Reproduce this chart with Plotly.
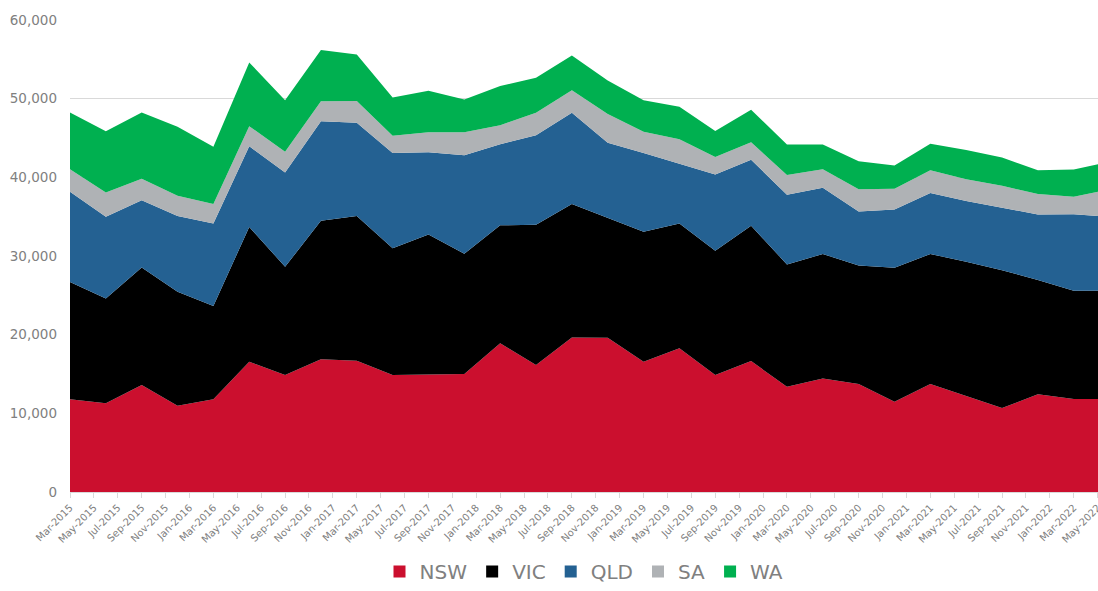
import plotly.graph_objects as go
import pandas as pd

# Quarterly observation dates (last one lies just beyond the visible axis end)
quarters = ["Mar-2015", "Jun-2015", "Sep-2015", "Dec-2015",
            "Mar-2016", "Jun-2016", "Sep-2016", "Dec-2016",
            "Mar-2017", "Jun-2017", "Sep-2017", "Dec-2017",
            "Mar-2018", "Jun-2018", "Sep-2018", "Dec-2018",
            "Mar-2019", "Jun-2019", "Sep-2019", "Dec-2019",
            "Mar-2020", "Jun-2020", "Sep-2020", "Dec-2020",
            "Mar-2021", "Jun-2021", "Sep-2021", "Dec-2021",
            "Mar-2022", "Jun-2022"]

nsw = [11780, 11270, 13600, 10970, 11780, 16560, 14870, 16860, 16700, 14870,
       14950, 15000, 18900, 16140, 19650, 19600, 16560, 18260, 14870, 16640,
       13380, 14440, 13720, 11470, 13720, 12240, 10670, 12410, 11820, 11820]
vic = [14920, 13330, 14950, 14480, 11850, 17140, 13760, 17610, 18400, 16130,
       17790, 15300, 15000, 17830, 16950, 15200, 16520, 15880, 15790, 17200,
       15550, 15800, 15080, 17030, 16520, 17030, 17530, 14530, 13760, 13760]
qld = [11460, 10380, 8550, 9650, 10510, 10260, 11970, 12670, 11830, 12100,
       10460, 12500, 10300, 11390, 11600, 9600, 10020, 7620, 9700, 8390,
       8870, 8430, 6860, 7420, 7760, 7730, 7970, 8340, 9740, 9370]
sa = [2880, 3100, 2720, 2550, 2460, 2540, 2640, 2540, 2770, 2200,
      2540, 2940, 2430, 2840, 2880, 3650, 2700, 3090, 2240, 2240,
      2500, 2370, 2840, 2620, 2900, 2770, 2750, 2590, 2210, 3530]
wa = [7210, 7790, 8430, 8770, 7280, 8100, 6560, 6520, 5900, 4850,
      5260, 4160, 4970, 4450, 4420, 4250, 4000, 4110, 3300, 4130,
      3870, 3130, 3560, 2960, 3360, 3690, 3610, 3030, 3470, 3480]

tick_labels = ["Mar-2015", "May-2015", "Jul-2015", "Sep-2015", "Nov-2015",
               "Jan-2016", "Mar-2016", "May-2016", "Jul-2016", "Sep-2016", "Nov-2016",
               "Jan-2017", "Mar-2017", "May-2017", "Jul-2017", "Sep-2017", "Nov-2017",
               "Jan-2018", "Mar-2018", "May-2018", "Jul-2018", "Sep-2018", "Nov-2018",
               "Jan-2019", "Mar-2019", "May-2019", "Jul-2019", "Sep-2019", "Nov-2019",
               "Jan-2020", "Mar-2020", "May-2020", "Jul-2020", "Sep-2020", "Nov-2020",
               "Jan-2021", "Mar-2021", "May-2021", "Jul-2021", "Sep-2021", "Nov-2021",
               "Jan-2022", "Mar-2022", "May-2022"]

series_names = ["NSW", "VIC", "QLD", "SA", "WA"]
series_colors = ["#CB0F2E", "#000000", "#246192", "#AFB2B5", "#00B050"]


def month_index(label):
    d = pd.to_datetime(label, format="%b-%Y")
    return (d.year - 2015) * 12 + d.month - 3


x_vals = [month_index(q) for q in quarters]
tick_vals = [month_index(t) for t in tick_labels]

FONT = "DejaVu Sans"
GREY = "#808080"

fig = go.Figure()
for name, vals, col in zip(series_names, [nsw, vic, qld, sa, wa], series_colors):
    fig.add_trace(go.Scatter(
        x=x_vals, y=vals, name=name, mode="lines",
        stackgroup="one", line=dict(width=0, color=col),
        fillcolor=col, hoverinfo="x+y+name", showlegend=False))
# legend-only entries with square swatches
for name, col in zip(series_names, series_colors):
    fig.add_trace(go.Scatter(
        x=[None], y=[None], name=name, mode="markers",
        marker=dict(symbol="square", size=12, color=col), showlegend=True))

fig.update_layout(
    width=1098, height=591,
    margin=dict(l=70, r=0, t=20, b=99, autoexpand=False),
    paper_bgcolor="white", plot_bgcolor="white",
    font=dict(family=FONT, color=GREY),
    legend=dict(orientation="h", x=0.5, xanchor="center",
                yref="container", y=-0.009, yanchor="bottom",
                font=dict(family=FONT, size=20, color=GREY),
                itemwidth=30, traceorder="normal"),
)
fig.update_xaxes(
    range=[0, 86.03], tickmode="array", tickvals=tick_vals, ticktext=tick_labels,
    tickangle=-45, tickfont=dict(family=FONT, size=10, color=GREY),
    showgrid=False, zeroline=False, showline=True, linecolor="#D9D9D9", linewidth=1,
    ticks="outside", ticklen=5, tickcolor="#D9D9D9", automargin=False,
    ticklabeloverflow="allow",
)
fig.update_yaxes(
    range=[0, 60000], dtick=10000, tickformat=",",
    tickfont=dict(family=FONT, size=13.5, color=GREY),
    showgrid=True, gridcolor="#D9D9D9", gridwidth=1.3, zeroline=False,
    showline=False, ticks="", ticklabelstandoff=12, automargin=False,
)

fig.write_html(
    "out.html",
    config={"displayModeBar": False},
    post_script="document.body.style.margin='0';document.body.style.overflow='hidden';",
)
